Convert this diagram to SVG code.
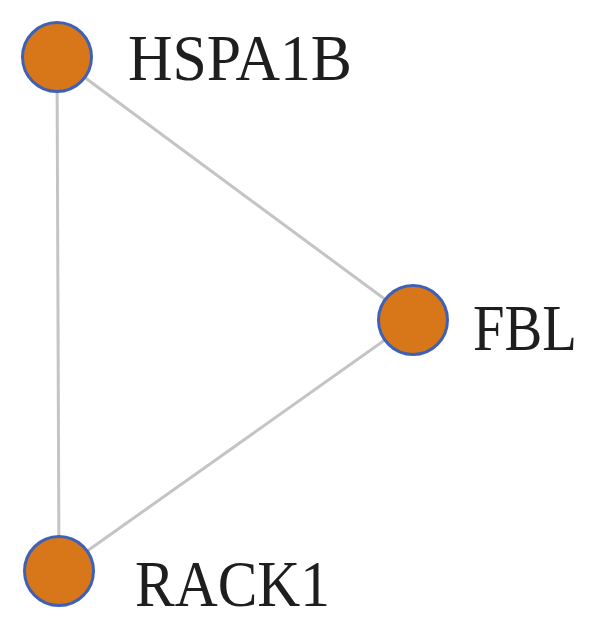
<svg xmlns="http://www.w3.org/2000/svg" width="600" height="630" viewBox="0 0 600 630">
<style>
.edge{stroke:#c4c4c4;stroke-width:3;fill:none}
.node{fill:#d8761a;stroke:#3d62b5;stroke-width:3}
.lbl{font-family:"Liberation Serif","Times New Roman",serif;font-size:65px;fill:#1e1e1e}
</style>
<rect width="600" height="630" fill="#ffffff"/>
<g id="edges">
<line class="edge" x1="57" y1="57" x2="413" y2="320"/>
<line class="edge" x1="57" y1="57" x2="59" y2="571"/>
<line class="edge" x1="413" y1="320" x2="59" y2="571"/>
</g>
<g id="HSPA1B">
<circle class="node" cx="57" cy="57" r="34.5"/>
<text class="lbl" x="128" y="80" textLength="224" lengthAdjust="spacingAndGlyphs">HSPA1B</text>
</g>
<g id="FBL">
<circle class="node" cx="413" cy="320" r="34.5"/>
<text class="lbl" x="473" y="350" textLength="104" lengthAdjust="spacingAndGlyphs">FBL</text>
</g>
<g id="RACK1">
<circle class="node" cx="59" cy="571" r="34.5"/>
<text class="lbl" x="135" y="606" textLength="195" lengthAdjust="spacingAndGlyphs">RACK1</text>
</g>
</svg>
